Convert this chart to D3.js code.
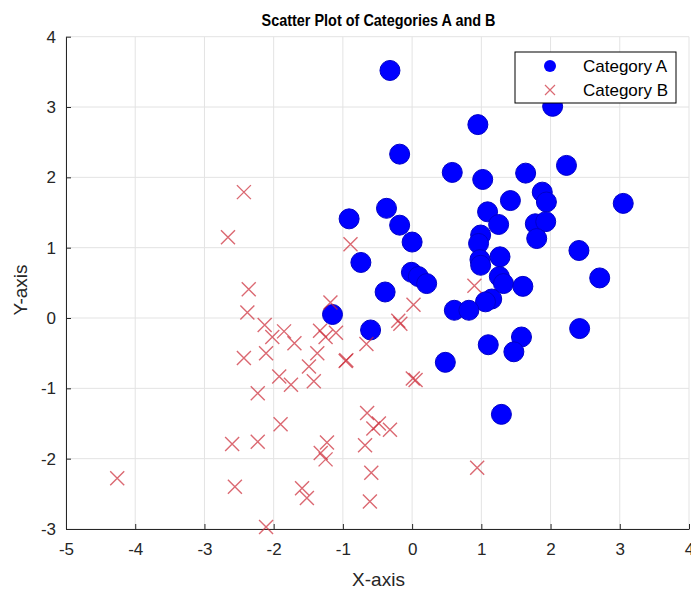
<!DOCTYPE html>
<meta charset='utf-8'>
<style>
  body { margin: 0; background: #fff; }
  svg { font-family: 'Liberation Sans', Arial, sans-serif; }
  .grid line { stroke: #e3e3e3; stroke-width: 1; }
  .axis text { fill: #262626; font-size: 17px; }
  .axis path, .axis line { stroke: #262626; }
</style>
<svg width='691' height='590'></svg>
<script src='https://cdn.jsdelivr.net/npm/d3@7'></script>
<script>
  // Category A (blue circles)
  var aX = [-0.32, 2.03, 0.95, -0.18, 0.58, 1.02, 1.64, 2.23, 3.05, -0.37, -0.91, 1.42, 1.88, 1.94, 1.09, 1.25,
            -0.18, 1.78, 1.93, 0.99, 0.96, 0.00, 1.80, -0.74, 0.98, 0.99, 1.27, 2.41, 2.71, -0.01, 0.09, 0.21,
            1.26, 1.32, 1.60, -0.39, 1.15, 1.06, 0.61, 0.82, -1.15, -0.60, 2.42, 1.58, 1.47, 1.10, 0.48, 1.29];
  var aY = [3.52, 3.01, 2.75, 2.33, 2.07, 1.97, 2.06, 2.17, 1.63, 1.56, 1.41, 1.67, 1.79, 1.65, 1.51, 1.33,
            1.32, 1.34, 1.37, 1.18, 1.06, 1.08, 1.13, 0.79, 0.83, 0.75, 0.87, 0.96, 0.57, 0.65, 0.59, 0.49,
            0.59, 0.49, 0.45, 0.37, 0.27, 0.23, 0.11, 0.11, 0.05, -0.17, -0.15, -0.27, -0.48, -0.38, -0.63, -1.37];

  // Category B (red crosses)
  var bX = [-2.43, -2.66, -0.89, -2.36, -2.38, -1.18, 0.90, 0.02, -0.20, -0.17, -2.13, -2.02, -1.85, -1.70, -1.33, -1.25,
            -1.10, -0.66, -0.96, -2.43, -2.11, -1.37, -1.49, -1.92, -1.75, -1.42, -2.23, 0.01, 0.05, -1.90, -0.65, -0.48,
            -0.56, -0.32, -2.60, -2.23, -1.23, -1.32, -1.25, -0.68, -4.26, -2.56, -1.59, -1.52, -0.59, 0.94, -0.61, -2.11, -0.95];
  var bY = [1.79, 1.15, 1.05, 0.41, 0.08, 0.22, 0.46, 0.19, -0.04, -0.08, -0.10, -0.27, -0.19, -0.36, -0.18, -0.27,
            -0.21, -0.37, -0.61, -0.57, -0.50, -0.50, -0.69, -0.83, -0.95, -0.90, -1.07, -0.86, -0.88, -1.51, -1.35, -1.50,
            -1.57, -1.59, -1.79, -1.76, -1.77, -1.92, -2.01, -1.81, -2.28, -2.40, -2.42, -2.56, -2.20, -2.13, -2.61, -2.97, -0.60];

  var xTicks = [-5, -4, -3, -2, -1, 0, 1, 2, 3, 4];
  var yTicks = [-3, -2, -1, 0, 1, 2, 3, 4];
  var seriesNames = ['Category A', 'Category B'];

  var svg = d3.select('svg');
  var mLeft = 66, mRight = 689, mTop = 36.7, mBottom = 529;

  var x = d3.scaleLinear().domain([-5, 4]).range([mLeft, mRight]);
  var y = d3.scaleLinear().domain([-3, 4]).range([mBottom, mTop]);

  // grid
  var grid = svg.append('g').attr('class', 'grid');
  grid.selectAll('.gx').data(xTicks).enter().append('line')
      .attr('x1', d => x(d)).attr('x2', d => x(d))
      .attr('y1', mTop).attr('y2', mBottom);
  grid.selectAll('.gy').data(yTicks).enter().append('line')
      .attr('x1', mLeft).attr('x2', mRight)
      .attr('y1', d => y(d)).attr('y2', d => y(d));

  // axes, ticks pointing inward
  var fmt = d => String(d);
  var xAxis = d3.axisBottom(x).tickValues(xTicks).tickFormat(fmt)
      .tickSizeInner(-5).tickSizeOuter(0).tickPadding(14);
  var yAxis = d3.axisLeft(y).tickValues(yTicks).tickFormat(fmt)
      .tickSizeInner(-5).tickSizeOuter(0).tickPadding(10);

  svg.append('g').attr('class', 'axis')
      .attr('transform', 'translate(0,' + mBottom + ')')
      .call(xAxis);
  svg.append('g').attr('class', 'axis')
      .attr('transform', 'translate(' + mLeft + ',0)')
      .call(yAxis);

  // Category A
  svg.append('g').selectAll('circle')
      .data(aX.map((v, i) => [v, aY[i]]))
      .enter().append('circle')
        .attr('cx', d => x(d[0]))
        .attr('cy', d => y(d[1]))
        .attr('r', 10)
        .attr('fill', '#0000ff')
        .attr('stroke', '#0000c8')
        .attr('stroke-width', 1);

  // Category B
  var s = 7;
  svg.append('g').selectAll('path')
      .data(bX.map((v, i) => [v, bY[i]]))
      .enter().append('path')
        .attr('d', d => {
          var cx = x(d[0]), cy = y(d[1]);
          return 'M' + (cx - s) + ',' + (cy - s) + 'L' + (cx + s) + ',' + (cy + s) +
                 'M' + (cx - s) + ',' + (cy + s) + 'L' + (cx + s) + ',' + (cy - s);
        })
        .attr('stroke', '#cc2a36')
        .attr('stroke-opacity', 0.7)
        .attr('stroke-width', 1.4)
        .attr('fill', 'none');

  // title and labels
  svg.append('text')
      .attr('x', (mLeft + mRight) / 2 + 1).attr('y', 26)
      .attr('text-anchor', 'middle')
      .attr('font-size', 16.5).attr('font-weight', 'bold').attr('fill', '#000')
      .attr('textLength', 234).attr('lengthAdjust', 'spacingAndGlyphs')
      .text('Scatter Plot of Categories A and B');
  svg.append('text')
      .attr('x', (mLeft + mRight) / 2 + 1).attr('y', 586)
      .attr('text-anchor', 'middle')
      .attr('font-size', 19).attr('fill', '#262626')
      .text('X-axis');
  svg.append('text')
      .attr('transform', 'translate(27,290) rotate(-90)')
      .attr('text-anchor', 'middle')
      .attr('font-size', 19).attr('fill', '#262626')
      .text('Y-axis');

  // legend
  var lg = svg.append('g').attr('transform', 'translate(515,52)');
  lg.append('rect')
      .attr('width', 161).attr('height', 51)
      .attr('fill', '#fff').attr('stroke', '#000').attr('stroke-width', 1);
  lg.append('circle').attr('cx', 35).attr('cy', 14).attr('r', 6).attr('fill', '#0000ff');
  lg.append('path')
      .attr('d', 'M30,33L40,43M30,43L40,33')
      .attr('stroke', '#cc2a36').attr('stroke-opacity', 0.7).attr('stroke-width', 1.2);
  lg.selectAll('.lt').data(seriesNames).enter().append('text')
      .attr('x', 68).attr('y', (d, i) => 20 + i * 24)
      .attr('font-size', 17).attr('fill', '#000')
      .text(d => d);
</script>
